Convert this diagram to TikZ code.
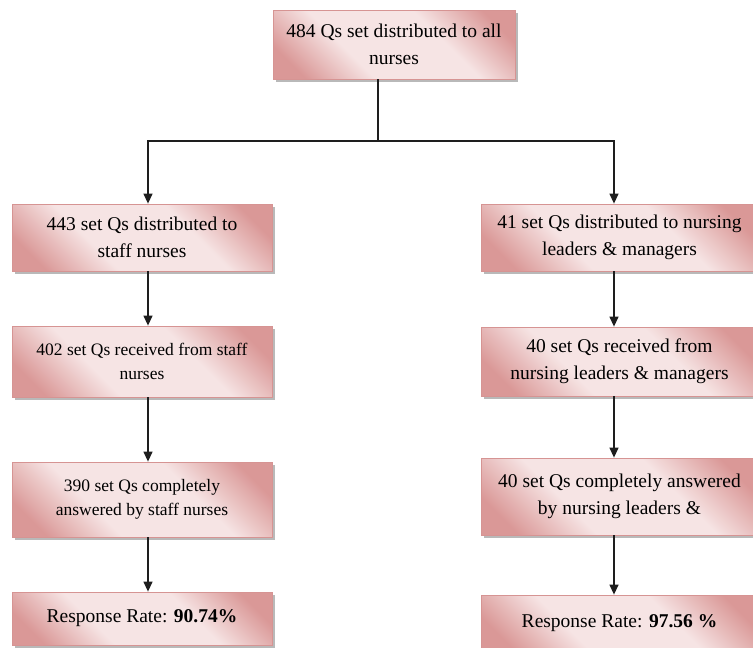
\documentclass[tikz,border=0pt]{standalone}
\usepackage{fontspec}
\setmainfont{Liberation Serif}
\usepackage{tikz}
\usetikzlibrary{arrows.meta,calc,shadows}
\definecolor{BoxDark}{RGB}{218, 152, 151}
\definecolor{BoxLight}{RGB}{246, 228, 228}
\definecolor{Edge}{RGB}{214, 148, 147}
\definecolor{Line}{RGB}{30, 30, 30}
\pgfdeclarehorizontalshading{boxshade}{100bp}{color(0bp)=(BoxDark); color(22bp)=(BoxDark); color(38bp)=(BoxLight); color(62bp)=(BoxLight); color(78bp)=(BoxDark); color(100bp)=(BoxDark)}

\begin{document}
\begin{tikzpicture}[x=1pt, y=-1pt,
    qbox/.style={draw=Edge, line width=0.8pt, shading=boxshade, shading angle=45,
        drop shadow={shadow xshift=3pt, shadow yshift=-3pt, fill=black!55},
        align=center, inner sep=0pt, font=\rmfamily\fontsize{19.5}{27}\selectfont},
    qsmall/.style={qbox, font=\rmfamily\fontsize{17.5}{24}\selectfont},
    arr/.style={draw=Line, line width=1.3pt, -{Triangle[length=10pt, width=9pt]}}]
    %%Background
    \useasboundingbox (0,0) rectangle (753,648);

    %% Top
    \node[qbox, minimum width=242pt, minimum height=69pt] (top) at (394,44.5)
        {484 Qs set distributed to all\\nurses};

    %% Staff nurses
    \node[qbox, minimum width=260pt, minimum height=67pt] (l1) at (142,237.5)
        {443 set Qs distributed to\\staff nurses};
    \node[qsmall, minimum width=260pt, minimum height=71pt] (l2) at (142,361.5)
        {402 set Qs received from staff\\nurses};
    \node[qsmall, minimum width=260pt, minimum height=75pt] (l3) at (142,499.5)
        {390 set Qs completely\\answered by staff nurses};
    \node[qbox, minimum width=260pt, minimum height=53pt] (l4) at (142,618.5)
        {Response Rate: \textbf{90.74\%}};

    %% Leaders & managers
    \node[qbox, minimum width=277pt, minimum height=67pt] (r1) at (619.5,237.5)
        {41 set Qs distributed to nursing\\leaders \& managers};
    \node[qbox, minimum width=277pt, minimum height=69pt] (r2) at (619.5,361.5)
        {40 set Qs received from\\nursing leaders \& managers};
    \node[qbox, minimum width=277pt, minimum height=77pt] (r3) at (619.5,496.5)
        {40 set Qs completely answered\\by nursing leaders \&};
    \node[qbox, minimum width=277pt, minimum height=57pt] (r4) at (619.5,623.5)
        {Response Rate: \textbf{97.56 \%}};

    %% Arrows
    \coordinate (hub) at (378,141);
    \coordinate (colL) at (148,0);
    \coordinate (colR) at (614,0);
    \draw[draw=Line, line width=1.3pt] (top.south -| hub) -- (hub);
    \draw[arr] (hub) -| (l1.north -| colL);
    \draw[arr] (hub) -| (r1.north -| colR);
    \draw[arr] (l1.south -| colL) -- (l2.north -| colL);
    \draw[arr] (l2.south -| colL) -- (l3.north -| colL);
    \draw[arr] (l3.south -| colL) -- (l4.north -| colL);
    \draw[arr] (r1.south -| colR) -- (r2.north -| colR);
    \draw[arr] (r2.south -| colR) -- (r3.north -| colR);
    \draw[arr] (r3.south -| colR) -- (r4.north -| colR);

\end{tikzpicture}
\end{document}
